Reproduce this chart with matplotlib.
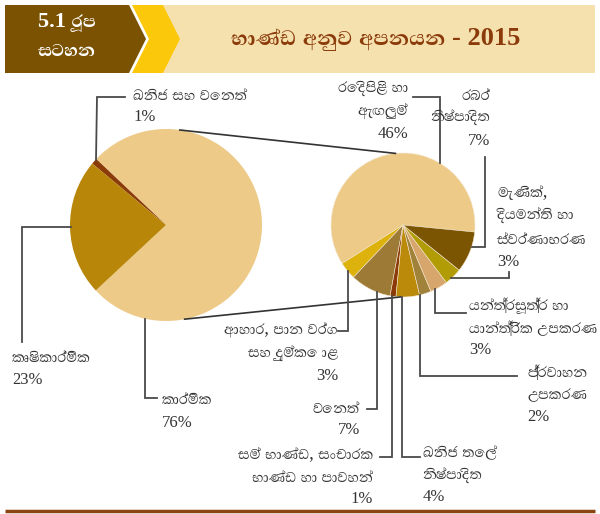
import numpy as np
import matplotlib
matplotlib.use('Agg')
import matplotlib.pyplot as plt
from matplotlib import font_manager
from matplotlib.patches import Polygon, Rectangle

# fonts: serif for latin digits, then whatever Sinhala font is around
sinh = sorted(set(f.name for f in font_manager.fontManager.ttflist
                  if 'sinhala' in f.name.lower() or f.name in ('Iskoola Pota', 'LKLUG', 'Abhaya Libre')))
plt.rcParams['font.family'] = ['Liberation Serif'] + sinh + ['DejaVu Sans']

W, H = 600, 514

# ---- data ----
title = 'භාණ්ඩ අනුව අපනයන - 2015'
badge = ['5.1 රූප', 'සටහන']

main_labels = ['කාර්මික', 'ඛනිජ සහ වෙනත්', 'කෘෂිකාර්මික']
main_vals = [76, 1, 23]
main_colors = ['#edca88', '#8b3a0a', '#b8870a']

ind_labels = ['රෙදිපිළි හා\nඇඟලුම්', 'ආහාර, පාන වර්ග\nසහ දුම්කොළ', 'වෙනත්',
              'සම් භාණ්ඩ, සංචාරක\nභාණ්ඩ හා පාවහන්', 'ඛනිජ තෙල්\nනිෂ්පාදිත',
              'ප්‍රවාහන\nඋපකරණ', 'යන්ත්‍රසූත්‍ර හා\nයාන්ත්‍රික උපකරණ',
              'මැණික්,\nදියමන්ති හා\nස්වර්ණාභරණ', 'රබර්\nනිෂ්පාදිත']
ind_vals = [46, 3, 7, 1, 4, 2, 3, 3, 7]
ind_colors = ['#edca88', '#ddb20c', '#9d7b36', '#8b3a0a', '#bb8a0a',
              '#a1823a', '#d6a66c', '#b29c05', '#7b5502']

# ---- layout (pixels, y down) ----
c1, r1 = (166, 225), 96
c2, r2 = (403, 225), 72

fig = plt.figure(figsize=(6, 5.14), dpi=100)
ax = fig.add_axes([0, 0, 1, 1])

def Y(y):
    return H - y

# header
ax.add_patch(Rectangle((150, Y(73)), 445, 68, fc='#f5e1ae', ec='none'))
ax.add_patch(Polygon([(132, Y(5)), (163, Y(5)), (180, Y(39)), (163, Y(73)), (132, Y(73)), (149, Y(39))],
                     fc='#fcc80c', ec='none'))
ax.add_patch(Polygon([(5, Y(5)), (129, Y(5)), (146, Y(39)), (129, Y(73)), (5, Y(73))],
                     fc='#7b5201', ec='none'))
ax.text(67, Y(22), badge[0], color='white', fontsize=16, fontweight='bold', ha='center', va='center')
ax.text(67, Y(51), badge[1], color='white', fontsize=16, fontweight='bold', ha='center', va='center')
ax.text(376, Y(38), title, color='#8b3a0a', fontsize=19, fontweight='bold',
        ha='center', va='center')
ax.plot([5, 595], [Y(511), Y(511)], color='#8b4513', lw=2.5, solid_capstyle='butt')

# pies
ax.pie(main_vals, colors=main_colors, startangle=-137, counterclock=True,
       center=(c1[0], Y(c1[1])), radius=r1, wedgeprops=dict(lw=0))
ax.pie(ind_vals, colors=ind_colors, startangle=-5.6, counterclock=True,
       center=(c2[0], Y(c2[1])), radius=r2, wedgeprops=dict(lw=0.4, ec='#f3e6cc'))

# connectors between the pies
def on_circle(c, r, ang):
    a = np.deg2rad(ang)
    return c[0] + r * np.cos(a), Y(c[1]) + r * np.sin(a)

for a1, a2 in [(81.7, 96), (-78.8, -92)]:
    p1 = on_circle(c1, r1, a1)
    p2 = on_circle(c2, r2, a2)
    ax.plot([p1[0], p2[0]], [p1[1], p2[1]], color='#333333', lw=1.2)

def bottom(c, r, x):
    return c[1] + np.sqrt(r ** 2 - (x - c[0]) ** 2)

lc = '#4a4a4a'
def leader(pts):
    xs, ys = zip(*pts)
    ax.plot(xs, [Y(v) for v in ys], color=lc, lw=1.3, solid_joinstyle='miter')

# left pie leaders
leader([(96, 160), (97, 97), (125, 97)])
leader([(71, 227), (22, 227), (22, 342)])
leader([(145, bottom(c1, r1, 145)), (145, 398), (157, 398)])
# right pie leaders
leader([(440, 163), (440, 97), (413, 97)])
leader([(472, 247), (485, 247), (485, 157)])
leader([(451, 278), (509, 278), (509, 272)])
leader([(435, bottom(c2, r2, 435)), (435, 313), (466, 313)])
leader([(420, bottom(c2, r2, 420)), (420, 376), (517, 376)])
leader([(402, bottom(c2, r2, 402)), (402, 457), (420, 457)])
leader([(392, bottom(c2, r2, 392)), (392, 457), (380, 457)])
leader([(377, bottom(c2, r2, 377)), (377, 409), (367, 409)])
leader([(348, bottom(c2, r2, 348)), (348, 331), (338, 331)])

# labels: (x, first line y, line step, align)
tc = '#333333'
def label(name, val, x, y0, dy, ha):
    lines = name.split('\n')
    for i, s in enumerate(lines):
        ax.text(x, Y(y0 + i * dy), s, fontsize=13, color=tc, ha=ha, va='center')
    ax.text(x, Y(y0 + len(lines) * dy), '%d%%' % val, fontsize=12, color=tc, ha=ha, va='center')

main_pos = [(162, 400, 23, 'left'), (133, 95, 22, 'left'), (12, 357, 23, 'left')]
for n, v, p in zip(main_labels, main_vals, main_pos):
    label(n, v, *p)

ind_pos = [(408, 88, 23, 'right'), (338, 330, 23, 'right'), (360, 408, 22, 'right'),
           (373, 455, 22, 'right'), (423, 453, 22, 'left'), (527, 373, 22, 'left'),
           (469, 306, 22, 'left'), (497, 193, 23, 'left'), (490, 95, 23, 'right')]
for n, v, p in zip(ind_labels, ind_vals, ind_pos):
    label(n, v, *p)

ax.set_xlim(0, W)
ax.set_ylim(0, H)
ax.set_aspect('equal')
ax.axis('off')
fig.savefig('out.png', dpi=100, facecolor='white')
